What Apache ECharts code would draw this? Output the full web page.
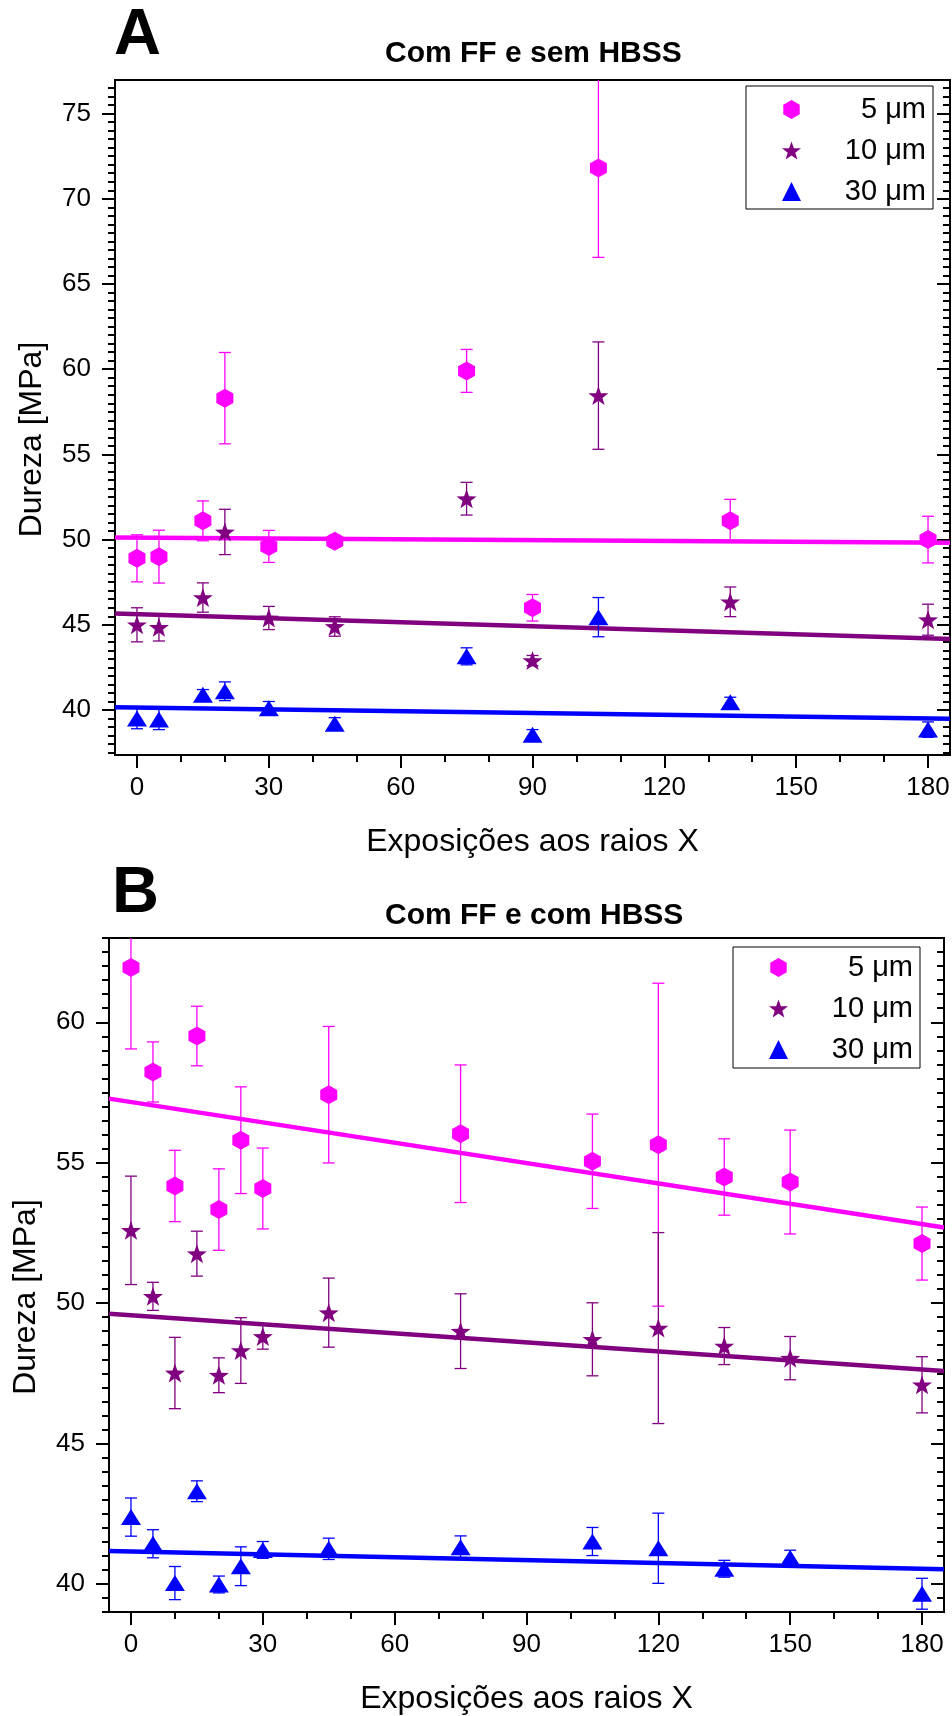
<!DOCTYPE html>
<html><head><meta charset="utf-8">
<script src="https://cdn.jsdelivr.net/npm/echarts@6/dist/echarts.min.js"></script>
<style>html,body{margin:0;padding:0;background:#fff}#c{width:952px;height:1716px}</style>
</head><body><div id="c"></div>
<script>
// ---------- data ----------
const seriesNames = ['5 μm', '10 μm', '30 μm'];
const xTickLabels = [0, 30, 60, 90, 120, 150, 180];
const yTicksA = [40, 45, 50, 55, 60, 65, 70, 75];
const yTicksB = [40, 45, 50, 55, 60];
const fitXRange = [-5, 185];

// Panel A: Com FF e sem HBSS
const xA = [0, 5, 15, 20, 30, 45, 75, 90, 105, 135, 180];
const A5 = [48.9, 49.0, 51.1, 58.3, 49.6, 49.9, 59.9, 46.0, 71.8, 51.1, 50.0];
const A5err = [1.38, 1.55, 1.17, 2.68, 0.94, 0.35, 1.26, 0.78, 5.24, 1.26, 1.37];
const A10 = [45.0, 44.85, 46.6, 50.45, 45.4, 44.9, 52.4, 42.9, 58.45, 46.35, 45.3];
const A10err = [1.0, 0.8, 0.86, 1.33, 0.68, 0.57, 0.96, 0.3, 3.15, 0.87, 0.91];
const A30 = [39.5, 39.45, 40.9, 41.1, 40.1, 39.2, 43.15, 38.55, 45.45, 40.45, 38.85];
const A30err = [0.6, 0.6, 0.3, 0.55, 0.4, 0.35, 0.5, 0.3, 1.15, 0.3, 0.45];
const fitA5 = [50.13, 49.82];
const fitA10 = [45.67, 44.17];
const fitA30 = [40.16, 39.48];

// Panel B: Com FF e com HBSS
const xB = [0, 5, 10, 15, 20, 25, 30, 45, 75, 105, 120, 135, 150, 180];
const B5 = [61.95, 58.23, 54.17, 59.51, 53.33, 55.8, 54.08, 57.42, 56.03, 55.05, 55.64, 54.49, 54.31, 52.12];
const B5err = [2.9, 1.07, 1.27, 1.06, 1.45, 1.9, 1.44, 2.43, 2.45, 1.68, 5.75, 1.36, 1.85, 1.3];
const B10 = [52.59, 50.24, 47.51, 51.76, 47.43, 48.31, 48.81, 49.66, 49.0, 48.71, 49.11, 48.47, 48.04, 47.09];
const B10err = [1.93, 0.5, 1.27, 0.8, 0.62, 1.17, 0.45, 1.23, 1.33, 1.3, 3.4, 0.66, 0.77, 1.0];
const B30 = [42.38, 41.43, 40.03, 43.3, 39.98, 40.63, 41.21, 41.25, 41.31, 41.51, 41.27, 40.54, 40.93, 39.65];
const B30err = [0.68, 0.5, 0.59, 0.37, 0.3, 0.69, 0.3, 0.38, 0.4, 0.5, 1.25, 0.3, 0.27, 0.55];
const fitB5 = [57.28, 52.69];
const fitB10 = [49.62, 47.58];
const fitB30 = [41.17, 40.52];

// ---------- styling ----------
const FONT = 'Liberation Sans, Arial, sans-serif';
const colors = ['#FF00FF', '#800080', '#0000FF'];
const hexPath = 'path://M0,-1 L0.866,-0.5 L0.866,0.5 L0,1 L-0.866,0.5 L-0.866,-0.5 Z';
const starPath = 'path://M0,-1 L0.235,-0.324 L0.951,-0.309 L0.380,0.124 L0.588,0.809 L0,0.4 L-0.588,0.809 L-0.380,0.124 L-0.951,-0.309 L-0.235,-0.324 Z';
const triPath = 'path://M0,-1 L1,1 L-1,1 Z';
const symbols = [hexPath, starPath, triPath];
const symSizes = [[17, 19], [20, 19], [20, 16]];

const xMinor = []; for (let k = 0; k <= 18; k++) xMinor.push(k * 10);
function halfSteps(a, b) { const r = []; for (let k = Math.ceil(a * 2); k <= Math.floor(b * 2); k++) r.push(k / 2); return r; }

const panels = [
  { grid: { left: 115, top: 80, width: 835, height: 675 }, ymin: 37.36, ymax: 76.97, yTicks: yTicksA,
    xs: xA, vals: [A5, A10, A30], errs: [A5err, A10err, A30err], fits: [fitA5, fitA10, fitA30],
    letter: 'A', letterPos: [114, 4], title: 'Com FF e sem HBSS', titlePos: [385, 39],
    legend: { left: 746, top: 86, padding: [9, 7, 3, 36] } },
  { grid: { left: 109, top: 938, width: 835, height: 674 }, ymin: 39.0, ymax: 63.0, yTicks: yTicksB,
    xs: xB, vals: [B5, B10, B30], errs: [B5err, B10err, B30err], fits: [fitB5, fitB10, fitB30],
    letter: 'B', letterPos: [112, 862], title: 'Com FF e com HBSS', titlePos: [385, 901],
    legend: { left: 733, top: 947, padding: [6, 7, 4, 36] } }
];

const tickLine = { color: '#000', width: 2 };
const noLine = { show: false, onZero: false };
const grids = [], xAxes = [], yAxes = [], series = [], titles = [], legends = [];

function errRender(color) {
  return function (params, api) {
    const x = api.value(0), y = api.value(1), e = api.value(2);
    const p1 = api.coord([x, y + e]), p2 = api.coord([x, y - e]);
    const hw = 6;
    const st = { stroke: color, lineWidth: 1.3, fill: null };
    const cs = params.coordSys;
    return {
      type: 'group',
      clipPath: { type: 'rect', shape: { x: cs.x, y: cs.y, width: cs.width, height: cs.height } },
      children: [
        { type: 'line', shape: { x1: p1[0], y1: p1[1], x2: p2[0], y2: p2[1] }, style: st },
        { type: 'line', shape: { x1: p1[0] - hw, y1: p1[1], x2: p1[0] + hw, y2: p1[1] }, style: st },
        { type: 'line', shape: { x1: p2[0] - hw, y1: p2[1], x2: p2[0] + hw, y2: p2[1] }, style: st }
      ]
    };
  };
}

panels.forEach((P, p) => {
  grids.push(Object.assign({ show: true, borderColor: '#000', borderWidth: 2, backgroundColor: 'transparent', containLabel: false, outerBoundsMode: 'none' }, P.grid));
  const xi = xAxes.length, yi = yAxes.length;
  const baseX = { gridIndex: p, type: 'value', min: -5, max: 185, position: 'bottom', axisLine: noLine, splitLine: { show: false } };
  xAxes.push(Object.assign({}, baseX, {
    axisTick: { show: true, length: 13, lineStyle: tickLine, customValues: xTickLabels },
    axisLabel: { show: true, customValues: xTickLabels, fontSize: 26, color: '#000', margin: 20, fontFamily: FONT },
    name: 'Exposições aos raios X', nameLocation: 'middle', nameGap: 71,
    nameTextStyle: { fontSize: 32, color: '#000', fontFamily: FONT }
  }));
  xAxes.push(Object.assign({}, baseX, {
    axisTick: { show: true, length: 7, lineStyle: tickLine, customValues: xMinor },
    axisLabel: { show: false }
  }));
  const minorY = halfSteps(P.ymin, P.ymax);
  const baseY = { gridIndex: p, type: 'value', min: P.ymin, max: P.ymax, axisLine: noLine, splitLine: { show: false } };
  yAxes.push(Object.assign({}, baseY, {
    position: 'left',
    axisTick: { show: true, length: 13, lineStyle: tickLine, customValues: P.yTicks },
    axisLabel: { show: true, customValues: P.yTicks, fontSize: 26, color: '#000', margin: 24, fontFamily: FONT },
    name: 'Dureza [MPa]', nameLocation: 'middle', nameGap: 67,
    nameTextStyle: { fontSize: 32, color: '#000', fontFamily: FONT, padding: [0, 44, 0, 0] }
  }));
  yAxes.push(Object.assign({}, baseY, { position: 'left',
    axisTick: { show: true, length: 7, lineStyle: tickLine, customValues: minorY }, axisLabel: { show: false } }));
  yAxes.push(Object.assign({}, baseY, { position: 'right',
    axisTick: { show: true, inside: true, length: 13, lineStyle: tickLine, customValues: P.yTicks }, axisLabel: { show: false } }));
  yAxes.push(Object.assign({}, baseY, { position: 'right',
    axisTick: { show: true, inside: true, length: 7, lineStyle: tickLine, customValues: minorY }, axisLabel: { show: false } }));

  // fit lines
  P.fits.forEach((f, s) => {
    series.push({ type: 'line', name: 'fit' + p + s, xAxisIndex: xi, yAxisIndex: yi, silent: true,
      data: [[fitXRange[0], f[0]], [fitXRange[1], f[1]]], showSymbol: false, symbol: 'none',
      lineStyle: { color: colors[s], width: 4.5 }, z: 2, clip: true });
  });
  // error bars
  P.vals.forEach((v, s) => {
    series.push({ type: 'custom', name: 'err' + p + s, xAxisIndex: xi, yAxisIndex: yi, silent: true, clip: true,
      data: P.xs.map((x, i) => [x, v[i], P.errs[s][i]]), renderItem: errRender(colors[s]), z: 3 });
  });
  // markers
  P.vals.forEach((v, s) => {
    series.push({ type: 'scatter', name: seriesNames[s], xAxisIndex: xi, yAxisIndex: yi,
      data: P.xs.map((x, i) => [x, v[i]]), symbol: symbols[s], symbolSize: symSizes[s],
      itemStyle: { color: colors[s], opacity: 1 }, z: 4 });
  });

  titles.push({ text: P.letter, left: P.letterPos[0], top: P.letterPos[1], padding: 0,
    textStyle: { fontSize: 65, fontWeight: 'bold', color: '#000', fontFamily: FONT } });
  titles.push({ text: P.title, left: P.titlePos[0], top: P.titlePos[1], padding: 0,
    textStyle: { fontSize: 30, fontWeight: 'bold', color: '#000', fontFamily: FONT } });

  legends.push({
    left: P.legend.left, top: P.legend.top, padding: P.legend.padding, orient: 'vertical',
    itemGap: 12, itemWidth: 19, itemHeight: 19, borderColor: '#000', borderWidth: 1, borderRadius: 0,
    backgroundColor: '#fff', selectedMode: false,
    data: seriesNames.map((n, s) => ({ name: n, icon: symbols[s], itemStyle: { color: colors[s] } })),
    formatter: n => '{a|' + n + '}',
    textStyle: { fontSize: 29, rich: { a: { width: 120, align: 'right', fontSize: 29, lineHeight: 30, color: '#000', fontFamily: FONT } } }
  });
});

const chart = echarts.init(document.getElementById('c'), null, { renderer: 'canvas' });
chart.setOption({
  animation: false,
  backgroundColor: '#fff',
  textStyle: { fontFamily: FONT },
  title: titles, legend: legends, grid: grids, xAxis: xAxes, yAxis: yAxes, series: series
});
</script></body></html>
